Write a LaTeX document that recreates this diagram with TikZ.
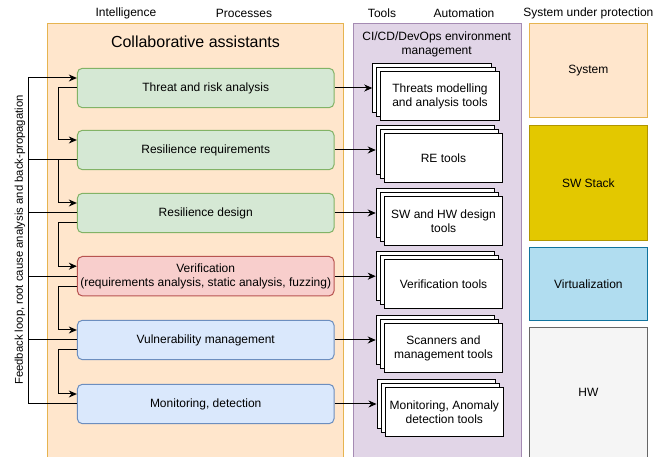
\documentclass[tikz,border=0pt]{standalone}
\usepackage{fontspec}
\setmainfont{Liberation Sans}
\usetikzlibrary{arrows.meta,shadows}

\definecolor{assistantsfill}{HTML}{FFE6CC}
\definecolor{assistantsline}{HTML}{E6B450}
\definecolor{automationfill}{HTML}{E1D5E7}
\definecolor{automationline}{HTML}{A58BB3}
\definecolor{greenfill}{HTML}{D5E8D4}
\definecolor{greenline}{HTML}{82B366}
\definecolor{redfill}{HTML}{F8CECC}
\definecolor{redline}{HTML}{B85450}
\definecolor{bluefill}{HTML}{DAE8FC}
\definecolor{blueline}{HTML}{6C8EBF}
\definecolor{stackfill}{HTML}{E3C800}
\definecolor{stackline}{HTML}{B09500}
\definecolor{virtfill}{HTML}{B1DDF0}
\definecolor{virtline}{HTML}{10739E}
\definecolor{hwfill}{HTML}{F5F5F5}
\definecolor{hwline}{HTML}{666666}

\tikzset{
  flow/.style={-{Stealth[length=8pt,width=7pt,inset=2.5pt]}},
  process/.style={draw, rounded corners=5pt, minimum width=256.7pt, minimum height=39.4pt, align=center, inner sep=1pt},
  green-process/.style={process, fill=greenfill, draw=greenline},
  red-process/.style={process, fill=redfill, draw=redline},
  blue-process/.style={process, fill=bluefill, draw=blueline},
  tool/.style={draw, fill=white, minimum width=118.5pt, minimum height=49pt, align=center, inner sep=1pt,
    copy shadow={shadow xshift=-8pt, shadow yshift=8pt},
    copy shadow={shadow xshift=-4pt, shadow yshift=4pt}},
  layer/.style={draw, minimum width=118.7pt, align=center}
}

\begin{document}
\begin{tikzpicture}[x=1pt, y=-1pt, line width=1pt, font=\fontsize{12}{14}\selectfont]
    \path[use as bounding box] (0,0) rectangle (665,457);

    \filldraw [fill=assistantsfill, draw=assistantsline] (47.7,24) rectangle (343.3,462);
    \filldraw [fill=automationfill, draw=automationline] (353.3,24) rectangle (521.7,462);

    \node (intelligence-label) at (126,13.7) [] {Intelligence};
    \node (processes-label) at (244,13.7) [] {Processes};
    \node (tools-label) at (382,13.7) [] {Tools};
    \node (automation-label) at (464,13.7) [] {Automation};
    \node (protection-label) at (588.4,13.7) [] {System under protection};

    \node (assistants-label) at (195.5,41.7) [font=\fontsize{16}{19}\selectfont] {Collaborative assistants};
    \node (devops-label) at (436.7,44) [align=center] {CI/CD/DevOps environment\\management};
    \node (feedback-label) at (20,240) [rotate=90, font=\fontsize{11.3}{13}\selectfont] {Feedback loop, root cause analysis and back-propagation};

    \node (threat-process) at (205.7,88) [green-process] {Threat and risk analysis};
    \node (resreq-process) at (205.7,150) [green-process] {Resilience requirements};
    \node (design-process) at (205.7,213) [green-process] {Resilience design};
    \node (verif-process) at (205.7,276.2) [red-process] {Verification\\(requirements analysis, static analysis, fuzzing)};
    \node (vuln-process) at (205.7,340) [blue-process] {Vulnerability management};
    \node (monitor-process) at (205.7,404) [blue-process] {Monitoring, detection};

    \node (threat-tool) at (440,96) [tool] {Threats modelling\\and analysis tools};
    \node (resreq-tool) at (443.5,158) [tool] {RE tools};
    \node (design-tool) at (443.5,221) [tool] {SW and HW design\\tools};
    \node (verif-tool) at (443.5,284.2) [tool] {Verification tools};
    \node (vuln-tool) at (443.5,348) [tool] {Scanners and\\management tools};
    \node (monitor-tool) at (444.3,412) [tool] {Monitoring, Anomaly\\detection tools};

    \node (system-layer) at (588.4,71) [layer, fill=assistantsfill, draw=assistantsline, minimum height=94pt] {System};
    \node (stack-layer) at (588.4,182.9) [layer, fill=stackfill, draw=stackline, minimum height=115.7pt] {SW Stack};
    \node (virt-layer) at (588.4,284) [layer, fill=virtfill, draw=virtline, minimum height=72.6pt] {Virtualization};
    \node (hw-layer) at (588.4,392.7) [layer, fill=hwfill, draw=hwline, minimum height=130.8pt] {HW};

    \draw [flow] (threat-process.east) -- ([shift={(-8pt,8pt)}]threat-tool.west);
    \draw [flow] (resreq-process.east) -- ([shift={(-8pt,8pt)}]resreq-tool.west);
    \draw [flow] (design-process.east) -- ([shift={(-8pt,8pt)}]design-tool.west);
    \draw [flow] (verif-process.east) -- ([shift={(-8pt,8pt)}]verif-tool.west);
    \draw [flow] (vuln-process.east) -- ([shift={(-8pt,8pt)}]vuln-tool.west);
    \draw [flow] (monitor-process.east) -- ([shift={(-8pt,8pt)}]monitor-tool.west);

    \coordinate (feedback-line) at (28,404);
    \coordinate (chain-line) at (58,404);

    \coordinate (threat-in) at ([yshift=10pt]threat-process.west);
    \coordinate (resreq-in) at ([yshift=10pt]resreq-process.west);
    \coordinate (resreq-out) at ([yshift=-10pt]resreq-process.west);
    \coordinate (design-in) at ([yshift=10pt]design-process.west);
    \coordinate (design-out) at ([yshift=-10pt]design-process.west);
    \coordinate (verif-in) at ([yshift=10pt]verif-process.west);
    \coordinate (verif-out) at ([yshift=-10pt]verif-process.west);
    \coordinate (vuln-in) at ([yshift=10pt]vuln-process.west);
    \coordinate (vuln-out) at ([yshift=-10pt]vuln-process.west);
    \coordinate (monitor-in) at ([yshift=10pt]monitor-process.west);

    \draw [flow] (monitor-process.west) -- (feedback-line) |- (threat-in);
    \draw (resreq-out) -- (resreq-out -| feedback-line);
    \draw (design-process.west) -- (design-process.west -| feedback-line);
    \draw (verif-process.west) -- (verif-process.west -| feedback-line);
    \draw (vuln-process.west) -- (vuln-process.west -| feedback-line);

    \draw [flow] (threat-process.west) -- (threat-process.west -| chain-line) |- (resreq-in);
    \draw [flow] (resreq-out -| chain-line) |- (design-in);
    \draw [flow] (design-out) -- (design-out -| chain-line) |- (verif-in);
    \draw [flow] (verif-out) -- (verif-out -| chain-line) |- (vuln-in);
    \draw [flow] (vuln-out) -- (vuln-out -| chain-line) |- (monitor-in);
  \end{tikzpicture}
\end{document}
